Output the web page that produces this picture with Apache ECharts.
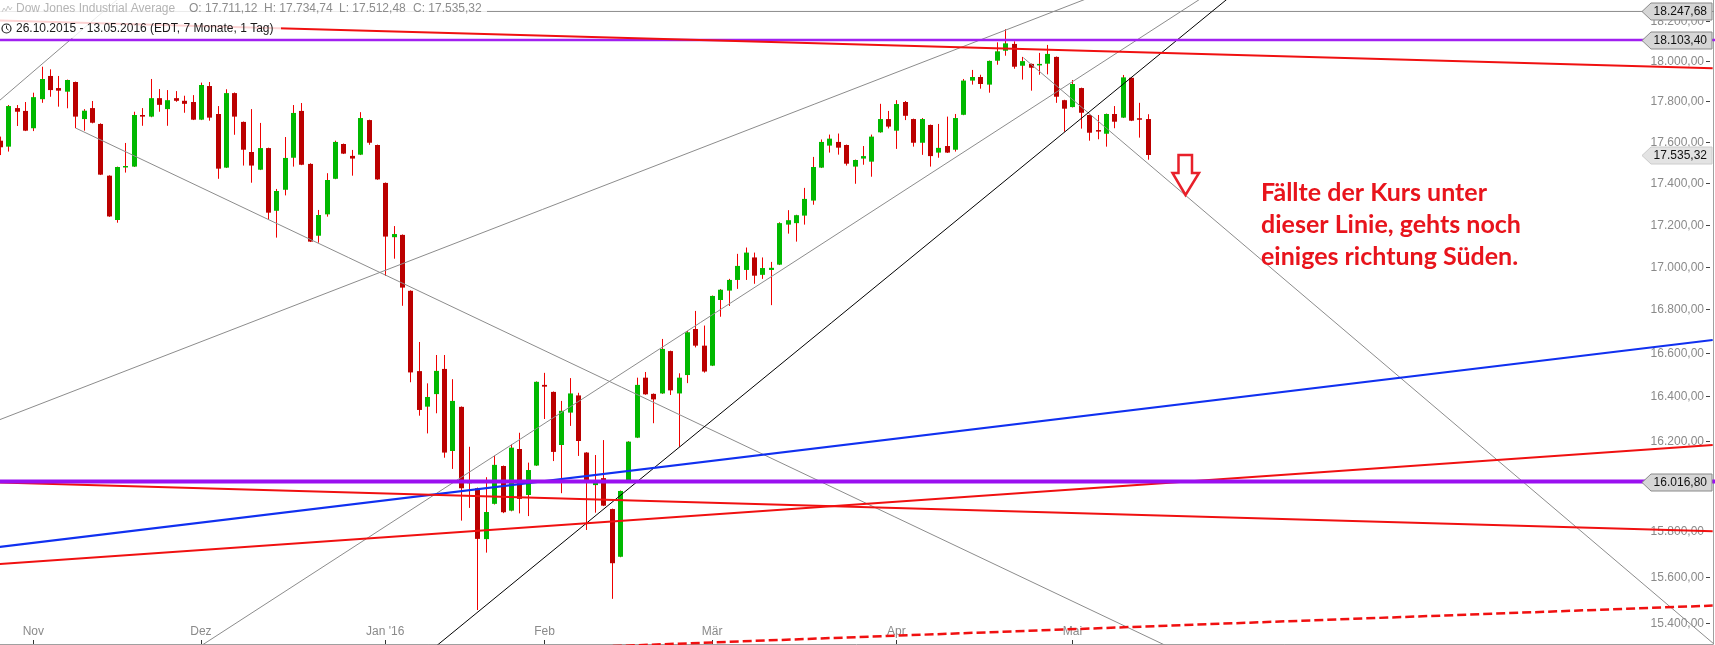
<!DOCTYPE html>
<html><head><meta charset="utf-8">
<script src="https://cdn.jsdelivr.net/npm/echarts@6/dist/echarts.min.js"></script>
<style>html,body{margin:0;padding:0;background:#fff}#c{width:1715px;height:645px}</style>
</head><body><div id="c"></div>
<script>
// ---------- data ----------
const tradingDays = [
'2015-10-27','2015-10-28','2015-10-29','2015-10-30',
'2015-11-02','2015-11-03','2015-11-04','2015-11-05','2015-11-06','2015-11-09','2015-11-10','2015-11-11','2015-11-12','2015-11-13','2015-11-16','2015-11-17','2015-11-18','2015-11-19','2015-11-20','2015-11-23','2015-11-24','2015-11-25','2015-11-27','2015-11-30',
'2015-12-01','2015-12-02','2015-12-03','2015-12-04','2015-12-07','2015-12-08','2015-12-09','2015-12-10','2015-12-11','2015-12-14','2015-12-15','2015-12-16','2015-12-17','2015-12-18','2015-12-21','2015-12-22','2015-12-23','2015-12-24','2015-12-28','2015-12-29','2015-12-30','2015-12-31',
'2016-01-04','2016-01-05','2016-01-06','2016-01-07','2016-01-08','2016-01-11','2016-01-12','2016-01-13','2016-01-14','2016-01-15','2016-01-19','2016-01-20','2016-01-21','2016-01-22','2016-01-25','2016-01-26','2016-01-27','2016-01-28','2016-01-29',
'2016-02-01','2016-02-02','2016-02-03','2016-02-04','2016-02-05','2016-02-08','2016-02-09','2016-02-10','2016-02-11','2016-02-12','2016-02-16','2016-02-17','2016-02-18','2016-02-19','2016-02-22','2016-02-23','2016-02-24','2016-02-25','2016-02-26','2016-02-29',
'2016-03-01','2016-03-02','2016-03-03','2016-03-04','2016-03-07','2016-03-08','2016-03-09','2016-03-10','2016-03-11','2016-03-14','2016-03-15','2016-03-16','2016-03-17','2016-03-18','2016-03-21','2016-03-22','2016-03-23','2016-03-24','2016-03-28','2016-03-29','2016-03-30','2016-03-31',
'2016-04-01','2016-04-04','2016-04-05','2016-04-06','2016-04-07','2016-04-08','2016-04-11','2016-04-12','2016-04-13','2016-04-14','2016-04-15','2016-04-18','2016-04-19','2016-04-20','2016-04-21','2016-04-22','2016-04-25','2016-04-26','2016-04-27','2016-04-28','2016-04-29',
'2016-05-02','2016-05-03','2016-05-04','2016-05-05','2016-05-06','2016-05-09','2016-05-10','2016-05-11','2016-05-12','2016-05-13'];

const opens = [
17605,17576,17765,17751,
17666,17809,17924,17864,17846,17894,17711,17765,17687,17435,17222,17477,17479,17731,17723,17814,17760,17814,17801,17795,
17708,17874,17736,17474,17839,17697,17550,17464,17569,17266,17367,17522,17751,17492,17147,17249,17420,17589,17531,17537,17706,17584,
17400,17140,17151,16887,16515,16353,16410,16525,16153,16352,16009,15987,15763,15918,16086,15888,16162,15957,16088,
16452,16420,16180,16326,16404,16146,16001,16032,15895,15686,16021,16213,16485,16411,16413,16607,16413,16497,16709,16632,
16540,16844,16888,16938,16985,17044,16962,16985,17010,17200,17207,17243,17315,17474,17581,17599,17584,17479,17518,17503,17646,17711,
17654,17795,17711,17595,17682,17547,17579,17561,17732,17901,17919,17881,18000,18050,18084,17975,17984,17979,17985,18019,17804,
17770,17864,17731,17657,17639,17736,17718,17915,17715,17711.12];
const highs = [
17625,17780,17780,17795,
17841,17970,17957,17924,17906,17896,17760,17800,17690,17437,17479,17594,17747,17765,17909,17859,17854,17849,17826,17829,
17891,17894,17775,17858,17842,17699,17760,17692,17571,17371,17623,17780,17790,17495,17270,17447,17605,17591,17560,17745,17708,17586,
17402,17193,17153,16889,16649,16459,16589,16589,16478,16354,16172,15990,16036,16132,16088,16183,16235,16101,16468,
16507,16422,16379,16483,16416,16148,16135,16202,15897,15977,16197,16485,16511,16413,16663,16609,16505,16700,16793,16725,
16865,16895,16943,17061,17091,17067,17044,17023,17211,17269,17247,17376,17526,17611,17635,17640,17586,17513,17579,17635,17786,17751,
17804,17800,17713,17716,17684,17687,17723,17736,17909,17954,17930,18001,18092,18158,18097,18019,17986,18039,18079,18021,17806,
17904,17866,17733,17731,17738,17775,17929,17917,17791,17734.74];
const lows = [
17535,17552,17677,17652,
17652,17791,17821,17772,17764,17666,17654,17690,17438,17237,17209,17450,17477,17678,17720,17747,17678,17796,17742,17706,
17706,17703,17420,17472,17634,17484,17401,17462,17226,17138,17340,17479,17486,17117,17114,17238,17418,17540,17435,17535,17585,17415,
16957,17038,16817,16464,16312,16232,16323,16123,16073,15844,15900,15456,15704,15915,15877,15885,15876,15864,16086,
16297,16108,15965,16266,16131,15803,15879,15908,15504,15684,16019,16211,16407,16278,16411,16406,16172,16460,16624,16508,
16538,16766,16816,16896,16938,16920,16943,16820,17008,17157,17119,17200,17295,17472,17547,17537,17484,17396,17488,17430,17644,17665,
17565,17706,17576,17536,17479,17522,17545,17552,17730,17881,17861,17841,17980,18025,17960,17906,17851,17930,17932,17791,17649,
17768,17664,17605,17612,17576,17666,17716,17701,17620,17512.48];
const closes = [
17573,17775,17747,17654,
17819,17909,17854,17851,17904,17723,17752,17693,17440,17239,17477,17482,17731,17723,17814,17781,17804,17801,17786,17708,
17879,17718,17469,17839,17723,17561,17484,17569,17257,17361,17521,17741,17488,17119,17246,17414,17599,17542,17518,17716,17595,17417,
17143,17155,16902,16509,16338,16397,16516,16146,16379,15987,16016,15764,15882,16091,15881,16168,15940,16068,16466,
16444,16149,16334,16413,16198,16024,16013,15910,15658,15975,16195,16452,16409,16386,16617,16427,16485,16694,16632,16513,
16863,16892,16938,17004,17067,16958,16994,16995,17207,17221,17245,17323,17477,17599,17615,17571,17493,17511,17530,17625,17711,17674,
17785,17727,17595,17711,17530,17570,17547,17716,17901,17919,17884,17999,18047,18087,17970,17998,17965,17984,18034,17821,17762,
17884,17742,17644,17651,17736,17698,17917,17703,17711,17535.32];

const monthNames = {'11':'Nov','12':'Dez','01':"Jan '16",'02':'Feb','03':'Mär','04':'Apr','05':'Mai'};
const priceTicks = [15400,15600,15800,16000,16200,16400,16600,16800,17000,17200,17400,17600,17800,18000,18200];
const priceTags = [18247.68, 18103.40, 17535.32, 16016.80];

// trend lines: [trading-day index, price] end points
const lineRedTop   = [[0, 18202], [204.4, 17963]];
const lineRedMid   = [[0, 16012], [204.4, 15797]];
const lineRedLow   = [[0, 15654], [204.4, 16180]];
const lineRedDash  = [[71.6, 15300], [204.4, 15475]];
const lineBlue     = [[0, 15729], [204.4, 16658]];
const lineBlack    = [[51.52, 15286], [147.2, 18336]];
const lineGray1    = [[-1.17, 17762], [14.79, 18336]];
const lineGray2    = [[-1.17, 16277], [131.14, 18336]];
const lineGray3    = [[9.1, 17666], [140.24, 15286]];
const lineGray4    = [[23.26, 15286], [144.16, 18336]];
const lineGray5    = [[122.14, 18015], [205.38, 15286]];
const levelPurpleTop = 18103.40;
const levelPurpleLow = 16016.80;
const levelGrayTop   = 18247.68;

// ---------- helpers ----------
function de(v){ const s=v.toFixed(2).split('.'); return s[0].replace(/\B(?=(\d{3})+(?!\d))/g,'.')+','+s[1]; }
const candleData = opens.map((o,i)=>[i,o,closes[i],lows[i],highs[i]]);
const monthTickIdx = [], monthTickLabel = {};
tradingDays.forEach((d,i)=>{ if(i>0 && d.slice(5,7)!==tradingDays[i-1].slice(5,7)){ monthTickIdx.push(i); monthTickLabel[i]=monthNames[d.slice(5,7)]; }});
const FONT = 'Liberation Sans, Arial, sans-serif';

function lineSeries(data, color, width, type, z){
  return {type:'line', data, symbol:'none', silent:true, clip:true, z:z||3,
    lineStyle:{color, width, type:type||'solid'}, animation:false};
}

const chart = echarts.init(document.getElementById('c'), null, {renderer:'canvas'});
chart.setOption({
  animation:false,
  backgroundColor:'#fff',
  grid:{left:0, right:2, top:0, bottom:1, containLabel:false},
  xAxis:{type:'value', min:0.026, max:204.44,
    axisLine:{show:true, lineStyle:{color:'#a0a0a0', width:1}},
    axisTick:{show:true, inside:true, length:4, customValues:monthTickIdx, lineStyle:{color:'#333'}},
    axisLabel:{show:true, inside:true, margin:6, customValues:monthTickIdx, formatter:v=>monthTickLabel[Math.round(v)]||'',
      color:'#8a8a8a', fontFamily:FONT, fontSize:12},
    splitLine:{show:false}},
  yAxis:{type:'log', position:'right', min:15311, max:18305.7,
    axisLine:{show:true, lineStyle:{color:'#a0a0a0'}},
    axisTick:{show:false}, axisLabel:{show:false}, splitLine:{show:false}},
  series:[
    // price scale labels
    {type:'custom', z:1, silent:true, data:priceTicks.map(v=>[0,v]), encode:{x:0,y:1},
     renderItem(params, api){
       const cs=params.coordSys, right=cs.x+cs.width;
       const y=Math.round(api.coord([api.value(0),api.value(1)])[1])+0.5;
       return {type:'group', children:[
         {type:'text', x:right-9, y:y, style:{text:de(api.value(1)), fill:'#8a8a8a', font:'12px '+FONT, align:'right', verticalAlign:'middle'}},
         {type:'line', shape:{x1:right-7,y1:y,x2:right-3,y2:y}, style:{stroke:'#444', lineWidth:1}}
       ]};
     }},
    // candles
    {type:'custom', z:2, silent:true, data:candleData, encode:{x:0, y:[1,2,3,4]},
     renderItem(params, api){
       const x=api.value(0), o=api.value(1), c=api.value(2), l=api.value(3), h=api.value(4);
       const pO=api.coord([x,o]), pC=api.coord([x,c]), pL=api.coord([x,l]), pH=api.coord([x,h]);
       const cx=Math.round(pO[0])+0.5;
       const top=Math.min(pO[1],pC[1]), bot=Math.max(pO[1],pC[1]);
       const bh=Math.max(bot-top,1.5);
       return {type:'group', children:[
         {type:'line', shape:{x1:cx,y1:pH[1],x2:cx,y2:pL[1]}, style:{stroke:'#f00000', lineWidth:1}},
         {type:'rect', shape:{x:cx-2.5, y:top, width:5, height:bh}, style:{fill: c>=o ? '#00b800' : '#bb0000'}}
       ]};
     }},
    lineSeries(lineGray1, '#8c8c8c', 1),
    lineSeries(lineGray2, '#8c8c8c', 1),
    lineSeries(lineGray3, '#8c8c8c', 1),
    lineSeries(lineGray4, '#8c8c8c', 1),
    lineSeries(lineGray5, '#8c8c8c', 1),
    lineSeries([[-1,levelGrayTop],[206,levelGrayTop]], '#8c8c8c', 1),
    lineSeries(lineBlack, '#000', 1),
    lineSeries(lineBlue, '#1030f0', 2),
    lineSeries(lineRedMid, '#f01010', 2),
    lineSeries(lineRedLow, '#f01010', 2),
    lineSeries(lineRedDash, '#f01010', 2.5, [9,4]),
    lineSeries([[-1,levelPurpleTop],[206,levelPurpleTop]], '#a020f0', 2.5),
    lineSeries(lineRedTop, '#f01010', 2),
    lineSeries([[-1,levelPurpleLow],[206,levelPurpleLow]], '#9a10f0', 4),
    // price tags
    {type:'custom', z:5, silent:true, data:priceTags.map(v=>[0,v]), encode:{x:0,y:1},
     renderItem(params, api){
       const cs=params.coordSys, right=cs.x+cs.width-1;
       const v=api.value(1);
       const y=Math.round(api.coord([api.value(0),v])[1])+0.5;
       const tip=right-70;
       const last = params.dataIndex===2;
       return {type:'group', children:[
         {type:'polygon', shape:{points:[[tip,y],[tip+9,y-8.5],[right,y-8.5],[right,y+8.5],[tip+9,y+8.5]]},
          style:{fill:last?'#e3e3e3':'#d6d6d6', stroke:last?'#cccccc':'#8a8a8a', lineWidth:1}},
         {type:'text', x:right-5, y:y, style:{text:de(v), fill:'#111', font:'12px '+FONT, align:'right', verticalAlign:'middle'}}
       ]};
     }}
  ],
  graphic:[
    {type:'rect', z:100, shape:{x:0,y:0,width:487,height:18}, style:{fill:'rgba(255,255,255,0.82)'}},
    {type:'rect', z:100, shape:{x:0,y:18,width:281,height:20}, style:{fill:'rgba(255,255,255,0.82)'}},
    {type:'polyline', z:101, shape:{points:[[2,12],[4,8],[6,11],[8,6],[10,10],[12,7]]}, style:{stroke:'#c8c8c8', lineWidth:1, fill:null}},
    {type:'text', z:101, x:16, y:9, style:{text:'Dow Jones Industrial Average', fill:'#b4b4b4', font:'12px '+FONT, verticalAlign:'middle'}},
    {type:'text', z:101, x:189, y:9, style:{text:'O: 17.711,12', fill:'#8c8c8c', font:'12px '+FONT, verticalAlign:'middle'}},
    {type:'text', z:101, x:264, y:9, style:{text:'H: 17.734,74', fill:'#8c8c8c', font:'12px '+FONT, verticalAlign:'middle'}},
    {type:'text', z:101, x:339, y:9, style:{text:'L: 17.512,48', fill:'#8c8c8c', font:'12px '+FONT, verticalAlign:'middle'}},
    {type:'text', z:101, x:413, y:9, style:{text:'C: 17.535,32', fill:'#8c8c8c', font:'12px '+FONT, verticalAlign:'middle'}},
    {type:'circle', z:101, shape:{cx:6.5,cy:28.5,r:4.5}, style:{stroke:'#222', lineWidth:1.2, fill:'none'}},
    {type:'polyline', z:101, shape:{points:[[6.5,25.5],[6.5,28.5],[8.5,30]]}, style:{stroke:'#222', lineWidth:1, fill:null}},
    {type:'text', z:101, x:16, y:28.5, style:{text:'26.10.2015 - 13.05.2016 (EDT, 7 Monate, 1 Tag)', fill:'#1a1a1a', font:'12px '+FONT, verticalAlign:'middle'}},
    {type:'polygon', z:101, shape:{points:[[1178.5,155],[1192,155],[1192,173],[1199,173],[1185.5,195],[1172.5,173],[1178.5,173]]},
     style:{stroke:'#e8202a', lineWidth:2.5, fill:'#fff'}},
    {type:'text', z:101, x:1261, y:177, style:{text:'Fällte der Kurs unter\ndieser Linie, gehts noch\neiniges richtung Süden.',
     fill:'#e8141c', font:'bold 25px Lato, sans-serif', lineHeight:32, verticalAlign:'top'}}
  ]
});
</script>
</body></html>
